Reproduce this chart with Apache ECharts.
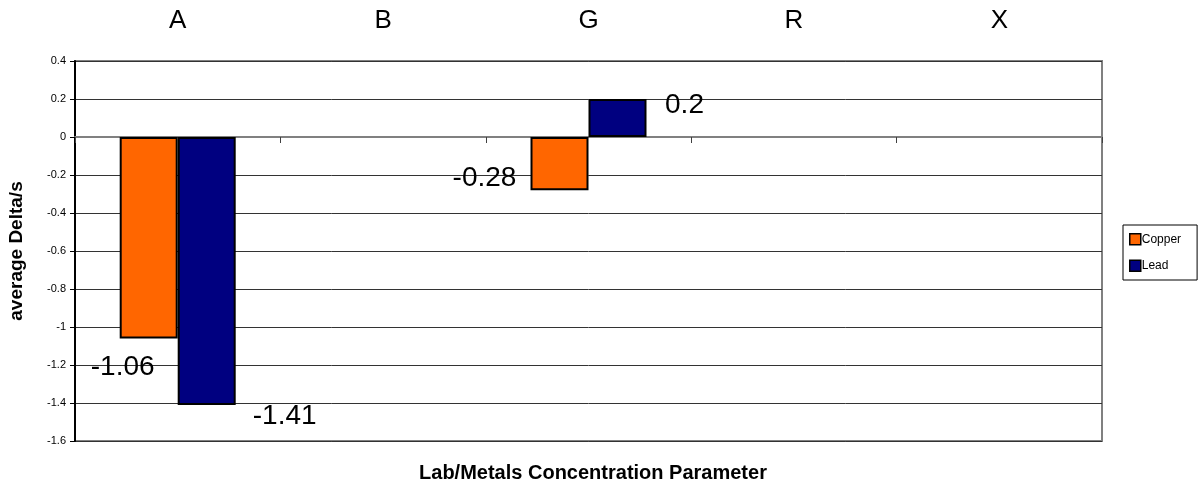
<!DOCTYPE html>
<html>
<head>
<meta charset="utf-8">
<script src="https://cdn.jsdelivr.net/npm/echarts@6/dist/echarts.min.js"></script>
<style>html,body{margin:0;padding:0;background:#fff;}#c{width:1199px;height:483px;}</style>
</head>
<body>
<div id="c"></div>
<script>
var categories = ['A', 'B', 'G', 'R', 'X'];
var copper = [-1.06, null, -0.28, null, null];
var lead = [-1.41, null, 0.2, null, null];
var yMin = -1.6, yMax = 0.4, yStep = 0.2;

// label offsets (pixels, relative to bar centre)
var copperLabelOffset = [[-26, 130], null, [-75, 15], null, null];
var leadLabelOffset = [[78, 145], null, [67, -13], null, null];

function buildData(vals, offs) {
  return vals.map(function (v, i) {
    if (v === null) return '-';
    return { value: v, label: { show: true, position: 'inside', offset: offs[i] } };
  });
}

var chart = echarts.init(document.getElementById('c'));
var fam = '"Liberation Sans", Arial, sans-serif';
chart.setOption({
  backgroundColor: '#fff',
  animation: false,
  textStyle: { fontFamily: fam },
  title: {
    text: 'Lab/Metals Concentration Parameter',
    left: 588, top: 458, textAlign: 'center',
    textStyle: { fontSize: 20, fontWeight: 'bold', color: '#000', fontFamily: fam }
  },
  legend: {
    orient: 'vertical', left: 1123, top: 225,
    borderColor: '#000', borderWidth: 1,
    padding: [8, 16, 8, 6],
    itemWidth: 11, itemHeight: 11, itemGap: 14,
    icon: 'rect',
    itemStyle: { borderColor: '#000', borderWidth: 1.5 },
    textStyle: { fontSize: 12, color: '#000', padding: [0, 0, 0, -4], fontFamily: fam },
    data: ['Copper', 'Lead']
  },
  grid: {
    left: 75, right: 97, top: 61, bottom: 42,
    outerBoundsMode: 'none', containLabel: false,
    show: true, borderColor: '#808080', borderWidth: 2, backgroundColor: '#fff'
  },
  xAxis: [
    {
      type: 'category', data: categories, position: 'top',
      axisLine: { show: false, onZero: false },
      axisTick: { show: false },
      axisLabel: { fontSize: 26, color: '#000', margin: 27, fontFamily: fam },
      splitLine: { show: false }
    },
    {
      type: 'category', data: categories, position: 'bottom',
      axisLine: { show: true, onZero: true, lineStyle: { color: '#808080', width: 2 } },
      axisTick: { show: true, length: 6, lineStyle: { color: '#404040', width: 1 } },
      axisLabel: { show: false },
      splitLine: { show: false }
    }
  ],
  yAxis: {
    type: 'value', min: yMin, max: yMax, interval: yStep,
    name: 'average Delta/s', nameLocation: 'middle', nameGap: 49, nameRotate: 90,
    nameTextStyle: { fontSize: 19, fontWeight: 'bold', color: '#000', fontFamily: fam },
    axisLine: { show: true, lineStyle: { color: '#000', width: 2 } },
    axisTick: { show: true, length: 5, lineStyle: { color: '#000' } },
    axisLabel: {
      fontSize: 11, color: '#000', margin: 9, fontFamily: fam,
      formatter: function (v) { return String(Math.round(v * 10) / 10); }
    },
    splitLine: { show: true, lineStyle: { color: '#333', width: 1 } }
  },
  series: [
    {
      name: 'Copper', type: 'bar', xAxisIndex: 1, data: buildData(copper, copperLabelOffset),
      barWidth: 58, barGap: '0%',
      itemStyle: { color: '#FF6600', borderColor: '#000', borderWidth: 2 },
      label: { show: true, fontSize: 28, color: '#000', fontFamily: fam }
    },
    {
      name: 'Lead', type: 'bar', xAxisIndex: 1, data: buildData(lead, leadLabelOffset),
      barWidth: 58, barGap: '0%',
      itemStyle: { color: '#000080', borderColor: '#000', borderWidth: 2 },
      label: { show: true, fontSize: 28, color: '#000', fontFamily: fam }
    }
  ]
});
</script>
</body>
</html>
